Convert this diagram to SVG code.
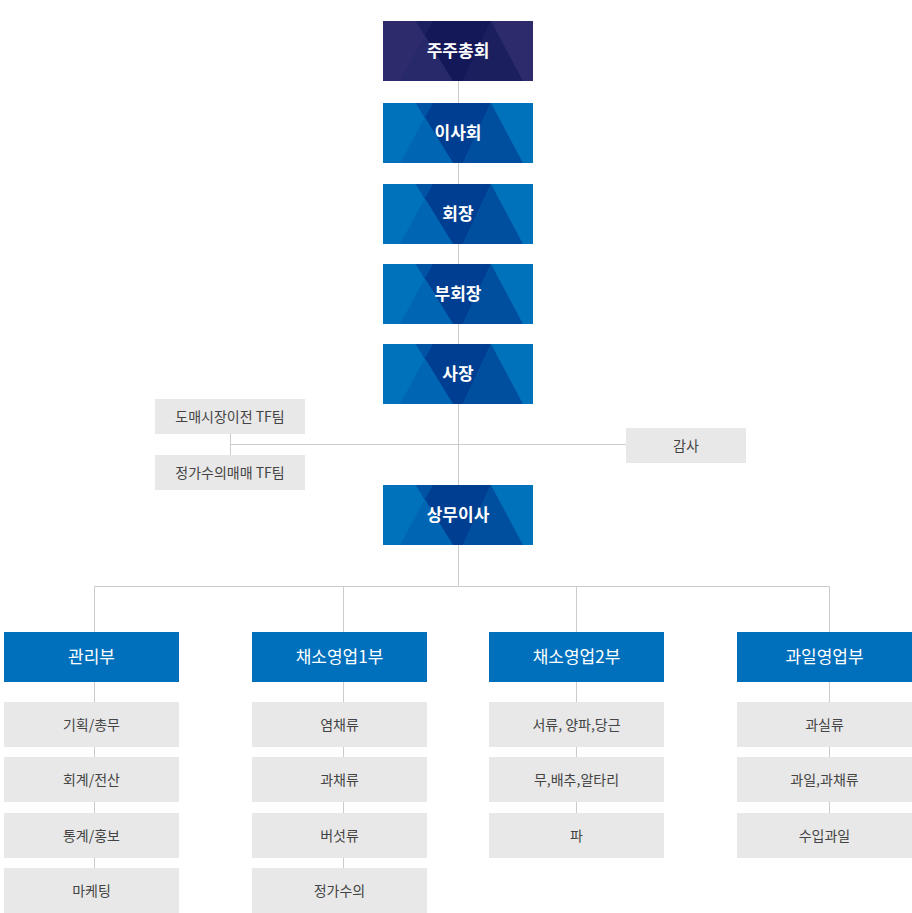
<svg xmlns="http://www.w3.org/2000/svg" xmlns:xlink="http://www.w3.org/1999/xlink" width="912" height="913" viewBox="0 0 912 913">
<style>
.t{font-family:"Noto Sans CJK KR","Noto Sans",sans-serif;text-anchor:middle}
.top{fill:#fff;font-size:17px;font-weight:bold}
.dept{fill:#fff;font-size:17px}
.sub{fill:#444;font-size:14px}
.gray{fill:#e8e8e8}
.blue{fill:#0070bd}
.ln{stroke:#cccccc;stroke-width:1;fill:none}
</style>
<defs>
<g id="patBlue">
<rect width="150" height="60" fill="#0072bc"/>
<polygon points="17,60 41.6,15 70,60" fill="#0065b3"/>
<polygon points="33,0 108,0 80,60 70,60" fill="#003e91"/>
<polygon points="33,0 50,0 41.6,15" fill="#0054a3"/>
<polygon points="108,0 140,60 80,60" fill="#004f9e"/>
</g>
<g id="patPurple">
<rect width="150" height="60" fill="#2e2b6c"/>
<polygon points="17,60 41.6,15 70,60" fill="#28296a"/>
<polygon points="33,0 108,0 80,60 70,60" fill="#141859"/>
<polygon points="33,0 50,0 41.6,15" fill="#1c1f60"/>
<polygon points="108,0 140,60 80,60" fill="#1c1f5e"/>
</g>
</defs>
<g id="connectors" class="ln">
<line x1="458.5" y1="81" x2="458.5" y2="586.5"/>
<line x1="230.5" y1="444.5" x2="626" y2="444.5"/>
<line x1="230.5" y1="434" x2="230.5" y2="455"/>
<line x1="94.5" y1="586.5" x2="829.5" y2="586.5"/>
<line x1="94.5" y1="586.5" x2="94.5" y2="868"/>
<line x1="343.5" y1="586.5" x2="343.5" y2="868"/>
<line x1="576.5" y1="586.5" x2="576.5" y2="813"/>
<line x1="829.5" y1="586.5" x2="829.5" y2="813"/>
</g>
<g id="n-shareholders" transform="translate(383,21)"><use xlink:href="#patPurple" href="#patPurple"/><text class="t top" x="75" y="36">주주총회</text></g>
<g id="n-board" transform="translate(383,103)"><use xlink:href="#patBlue" href="#patBlue"/><text class="t top" x="75" y="36">이사회</text></g>
<g id="n-chairman" transform="translate(383,184)"><use xlink:href="#patBlue" href="#patBlue"/><text class="t top" x="75" y="36">회장</text></g>
<g id="n-vicechair" transform="translate(383,264)"><use xlink:href="#patBlue" href="#patBlue"/><text class="t top" x="75" y="36">부회장</text></g>
<g id="n-president" transform="translate(383,344)"><use xlink:href="#patBlue" href="#patBlue"/><text class="t top" x="75" y="36">사장</text></g>
<g id="n-managing" transform="translate(383,485)"><use xlink:href="#patBlue" href="#patBlue"/><text class="t top" x="75" y="36">상무이사</text></g>
<g id="n-tf1"><rect class="gray" x="155" y="399" width="150" height="35"/><text class="t sub" x="230" y="421.5">도매시장이전 TF팀</text></g>
<g id="n-tf2"><rect class="gray" x="155" y="455" width="150" height="35"/><text class="t sub" x="230" y="477.5">정가수의매매 TF팀</text></g>
<g id="n-audit"><rect class="gray" x="626" y="428" width="120" height="35"/><text class="t sub" x="686" y="450.5">감사</text></g>
<g id="n-admin"><rect class="blue" x="4" y="632" width="175" height="50"/><text class="t dept" x="91.5" y="663">관리부</text></g>
<g id="n-veg1"><rect class="blue" x="252" y="632" width="175" height="50"/><text class="t dept" x="339.5" y="663">채소영업1부</text></g>
<g id="n-veg2"><rect class="blue" x="489" y="632" width="175" height="50"/><text class="t dept" x="576.5" y="663">채소영업2부</text></g>
<g id="n-fruit"><rect class="blue" x="737" y="632" width="175" height="50"/><text class="t dept" x="824.5" y="663">과일영업부</text></g>
<g id="n-admin-1"><rect class="gray" x="4" y="702" width="175" height="45"/><text class="t sub" x="91.5" y="729.5">기획/총무</text></g>
<g id="n-admin-2"><rect class="gray" x="4" y="757" width="175" height="45"/><text class="t sub" x="91.5" y="784.5">회계/전산</text></g>
<g id="n-admin-3"><rect class="gray" x="4" y="813" width="175" height="45"/><text class="t sub" x="91.5" y="840.5">통계/홍보</text></g>
<g id="n-admin-4"><rect class="gray" x="4" y="868" width="175" height="45"/><text class="t sub" x="91.5" y="895.5">마케팅</text></g>
<g id="n-veg1-1"><rect class="gray" x="252" y="702" width="175" height="45"/><text class="t sub" x="339.5" y="729.5">염채류</text></g>
<g id="n-veg1-2"><rect class="gray" x="252" y="757" width="175" height="45"/><text class="t sub" x="339.5" y="784.5">과채류</text></g>
<g id="n-veg1-3"><rect class="gray" x="252" y="813" width="175" height="45"/><text class="t sub" x="339.5" y="840.5">버섯류</text></g>
<g id="n-veg1-4"><rect class="gray" x="252" y="868" width="175" height="45"/><text class="t sub" x="339.5" y="895.5">정가수의</text></g>
<g id="n-veg2-1"><rect class="gray" x="489" y="702" width="175" height="45"/><text class="t sub" x="576.5" y="729.5">서류, 양파,당근</text></g>
<g id="n-veg2-2"><rect class="gray" x="489" y="757" width="175" height="45"/><text class="t sub" x="576.5" y="784.5">무,배추,알타리</text></g>
<g id="n-veg2-3"><rect class="gray" x="489" y="813" width="175" height="45"/><text class="t sub" x="576.5" y="840.5">파</text></g>
<g id="n-fruit-1"><rect class="gray" x="737" y="702" width="175" height="45"/><text class="t sub" x="824.5" y="729.5">과실류</text></g>
<g id="n-fruit-2"><rect class="gray" x="737" y="757" width="175" height="45"/><text class="t sub" x="824.5" y="784.5">과일,과채류</text></g>
<g id="n-fruit-3"><rect class="gray" x="737" y="813" width="175" height="45"/><text class="t sub" x="824.5" y="840.5">수입과일</text></g>
</svg>
